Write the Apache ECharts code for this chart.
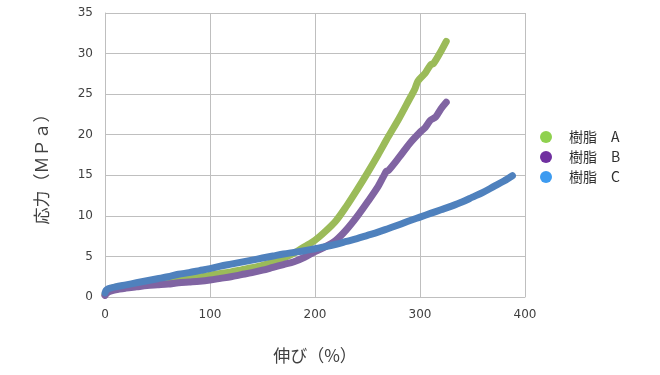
<!DOCTYPE html>
<html><head><meta charset="utf-8">
<script src="https://cdn.jsdelivr.net/npm/echarts@6/dist/echarts.min.js"></script>
<style>html,body{margin:0;padding:0;background:#fff}#c{width:660px;height:375px}</style>
</head><body><div id="c"></div>
<script>
const seriesNames = ['樹脂\u3000A', '樹脂\u3000B', '樹脂\u3000C'];
const xTicks = [0, 100, 200, 300, 400];
const yTicks = [0, 5, 10, 15, 20, 25, 30, 35];

const aX = [0,2,5,10,20,30,40,50,60,70,80,90,100,110,120,130,140,150,160,170,180,190,200,210,220,230,240,250,260,270,280,290,295,298,305,310,313,320,325];
const aY = [0.3,0.8,1.0,1.2,1.4,1.5,1.65,1.8,1.95,2.1,2.25,2.45,2.7,2.9,3.1,3.35,3.6,3.9,4.3,4.8,5.4,6.2,7.0,8.1,9.4,11.2,13.2,15.3,17.5,19.8,22.0,24.4,25.6,26.6,27.6,28.6,28.8,30.3,31.5];

const bX = [0,2,5,10,20,30,40,50,60,70,80,90,100,110,120,130,140,150,160,170,180,190,200,210,220,230,240,250,260,265,268,270,280,290,300,305,310,315,320,325];
const bY = [0.2,0.5,0.7,0.9,1.1,1.25,1.4,1.5,1.6,1.75,1.85,1.95,2.1,2.3,2.5,2.75,3.0,3.3,3.65,4.0,4.35,4.9,5.6,6.2,7.0,8.3,9.9,11.7,13.6,14.8,15.5,15.6,17.2,18.9,20.3,20.9,21.8,22.2,23.2,24.0];

const cX = [0,1,3,5,10,20,30,40,50,60,70,80,90,100,110,120,130,140,150,160,170,180,190,200,210,220,230,240,250,260,270,280,290,300,310,320,330,340,350,360,370,380,388];
const cY = [0.5,0.8,1.0,1.1,1.25,1.5,1.75,2.0,2.25,2.5,2.8,3.0,3.25,3.5,3.8,4.05,4.3,4.55,4.8,5.05,5.3,5.5,5.7,5.95,6.2,6.5,6.85,7.2,7.6,8.0,8.45,8.9,9.4,9.85,10.3,10.75,11.2,11.7,12.3,12.9,13.6,14.3,14.95];

const pairs = (xs, ys) => xs.map((x, i) => [x, ys[i]]);
const legendColors = ['#8fd14f', '#7030a0', '#3d9bf0'];
const lineColors = ['#9bbb59', '#8064a2', '#4f81bd'];
const datasets = [pairs(aX, aY), pairs(bX, bY), pairs(cX, cY)];

const chart = echarts.init(document.getElementById('c'), null, {renderer: 'canvas'});
const font = '"DejaVu Sans", "Noto Sans CJK JP", sans-serif';
chart.setOption({
  animation: false,
  backgroundColor: '#fff',
  grid: {left: 105, right: 135, top: 13, bottom: 78},
  xAxis: {
    type: 'value', min: 0, max: 400, interval: 100,
    axisLine: {show: true, lineStyle: {color: '#bfbfbf'}},
    axisTick: {show: false},
    splitLine: {show: true, lineStyle: {color: '#bfbfbf', width: 1}},
    axisLabel: {color: '#404040', fontSize: 12, fontFamily: font, margin: 12},
    name: '伸び（%）', nameLocation: 'middle', nameGap: 50,
    nameTextStyle: {color: '#404040', fontSize: 17, fontFamily: '"Noto Sans CJK JP", sans-serif'}
  },
  yAxis: {
    type: 'value', min: 0, max: 35, interval: 5,
    axisLine: {show: true, lineStyle: {color: '#bfbfbf'}},
    axisTick: {show: false},
    splitLine: {show: true, lineStyle: {color: '#bfbfbf', width: 1}},
    axisLabel: {color: '#404040', fontSize: 12, fontFamily: font, margin: 12}
  },
  graphic: [{
    type: 'text', x: 42, y: 165, rotation: Math.PI / 2,
    style: {text: '応力（ＭＰａ）', fill: '#404040', font: '17px "Noto Sans CJK JP", sans-serif',
      textAlign: 'center', textVerticalAlign: 'middle'}
  }],
  legend: {
    orient: 'vertical', left: 535, top: 125, itemGap: 6,
    icon: 'circle', itemWidth: 12, itemHeight: 12,
    textStyle: {color: '#303030', fontSize: 14, fontFamily: '"Noto Sans CJK JP", sans-serif', padding: [0, 0, 0, 12]},
    data: seriesNames
  },
  series: seriesNames.map((n, i) => ({
    name: n, type: 'line', data: datasets[i], showSymbol: false, symbol: 'circle',
    smooth: 0.3,
    itemStyle: {color: legendColors[i]},
    lineStyle: {color: lineColors[i], width: 7, cap: 'round', join: 'round'}
  }))
});
</script></body></html>
